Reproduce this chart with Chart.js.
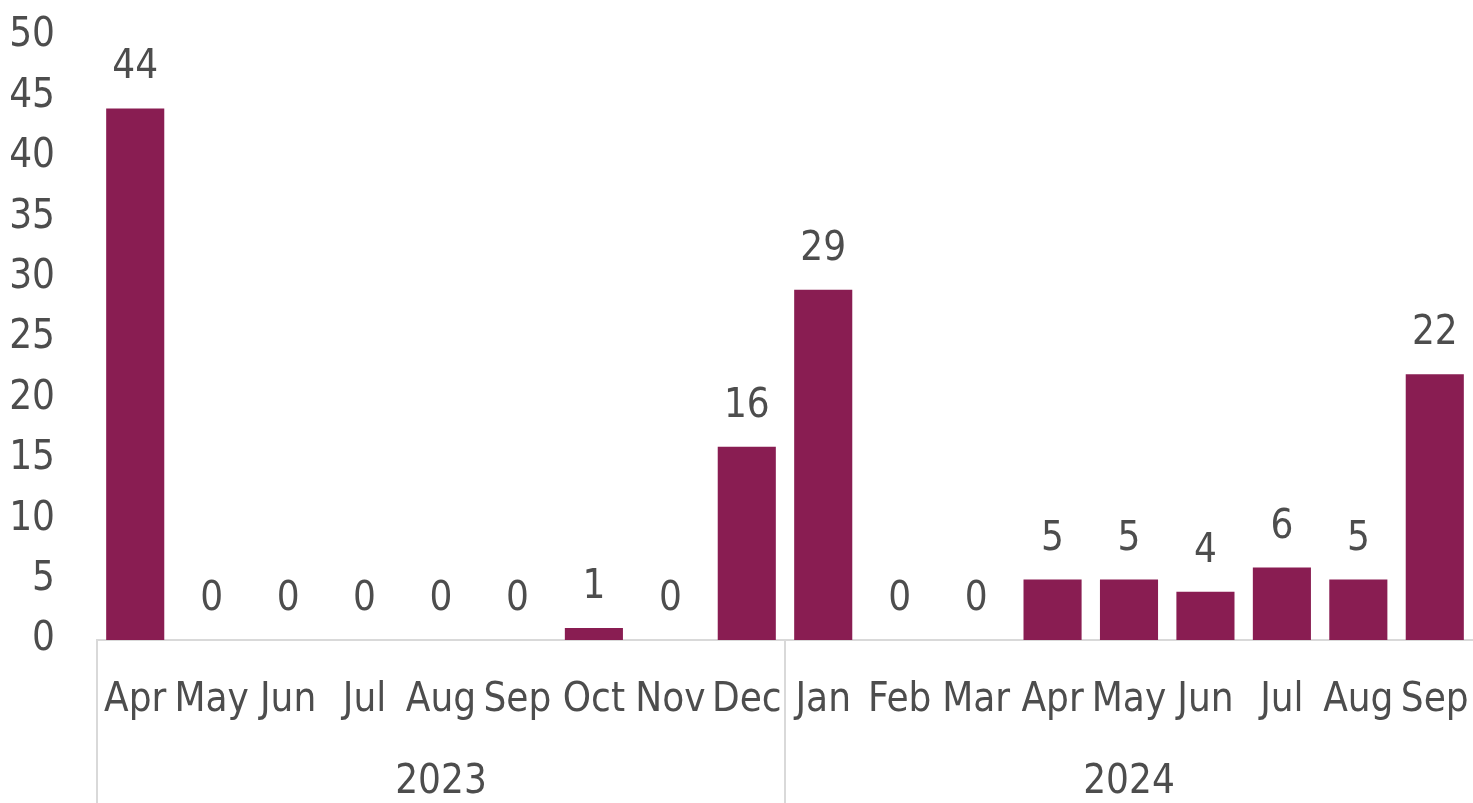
<!DOCTYPE html>
<html>
<head>
<meta charset="utf-8">
<script src="https://cdn.jsdelivr.net/npm/chart.js@4/dist/chart.umd.min.js"></script>
<style>
  html, body { margin: 0; padding: 0; background: #fff; }
  #wrap { width: 1473px; height: 803px; }
</style>
</head>
<body>
<div id="wrap"><canvas id="chart" width="1473" height="803"></canvas></div>
<script>
// ── Data ────────────────────────────────────────────
const months = ['Apr', 'May', 'Jun', 'Jul', 'Aug', 'Sep', 'Oct', 'Nov', 'Dec',
                'Jan', 'Feb', 'Mar', 'Apr', 'May', 'Jun', 'Jul', 'Aug', 'Sep'];
const years = ['2023', '2024'];
const counts = [44, 0, 0, 0, 0, 0, 1, 0, 16, 29, 0, 0, 5, 5, 4, 6, 5, 22];
const yTicks = [0, 5, 10, 15, 20, 25, 30, 35, 40, 45, 50];

const FONT = 'DejaVu Sans Condensed, DejaVu Sans, sans-serif';
const SIZE = 40;
const TEXT = '#4d4d4d';
const LINE = '#d9d9d9';
const BAR = '#891D52';

// value labels above each bar
const valueLabels = {
  id: 'valueLabels',
  afterDatasetsDraw(chart) {
    const ctx = chart.ctx;
    const meta = chart.getDatasetMeta(0);
    ctx.save();
    ctx.font = SIZE + 'px ' + FONT;
    ctx.fillStyle = TEXT;
    ctx.textAlign = 'center';
    ctx.textBaseline = 'alphabetic';
    meta.data.forEach((bar, i) => {
      ctx.fillText(String(counts[i]), bar.x, bar.y - 30);
    });
    ctx.restore();
  }
};

// year group dividers below the axis (left edge + between years)
const yearDividers = {
  id: 'yearDividers',
  afterDraw(chart) {
    const x = chart.scales.x;
    const ctx = chart.ctx;
    const per = months.length / years.length;
    const bounds = [x.left];
    for (let g = 1; g < years.length; g++) {
      const i = g * per;
      bounds.push((x.getPixelForValue(i - 1) + x.getPixelForValue(i)) / 2);
    }
    ctx.save();
    ctx.strokeStyle = LINE;
    ctx.lineWidth = 2;
    bounds.forEach(px => {
      ctx.beginPath();
      ctx.moveTo(px, x.top);
      ctx.lineTo(px, chart.height);
      ctx.stroke();
    });
    ctx.restore();
  }
};

const fitX = (h) => (s) => { s.paddingLeft = 0; s.paddingRight = 0; s.height = h; };

new Chart(document.getElementById('chart').getContext('2d'), {
  type: 'bar',
  data: {
    labels: months,
    datasets: [{
      data: counts,
      backgroundColor: BAR,
      barPercentage: 0.76,
      categoryPercentage: 1.0,
    }],
  },
  options: {
    responsive: false,
    animation: false,
    layout: { padding: { top: 0, right: 0, left: 10, bottom: 0 } },
    plugins: {
      legend: { display: false },
      tooltip: { enabled: false },
    },
    scales: {
      x: {
        offset: true,
        afterFit: fitX(80),
        grid: { display: false, drawTicks: false },
        border: { display: true, color: LINE, width: 2 },
        ticks: { color: TEXT, font: { family: FONT, size: SIZE }, padding: 37, maxRotation: 0, autoSkip: false },
      },
      x2: {
        type: 'category',
        labels: years,
        position: 'bottom',
        offset: true,
        afterFit: fitX(83),
        grid: { display: false, drawTicks: false },
        border: { display: false },
        ticks: { color: TEXT, font: { family: FONT, size: SIZE }, padding: 39, maxRotation: 0 },
      },
      y: {
        min: 0,
        max: 50,
        afterFit: (s) => { s.paddingTop = 36; s.paddingBottom = 0; s.width = 87; },
        grid: { display: false, drawTicks: false },
        border: { display: false },
        afterBuildTicks: (s) => { s.ticks = yTicks.map(v => ({ value: v })); },
        ticks: { color: TEXT, font: { family: FONT, size: SIZE }, padding: 42 },
      },
    },
  },
  plugins: [valueLabels, yearDividers],
});
</script>
</body>
</html>
